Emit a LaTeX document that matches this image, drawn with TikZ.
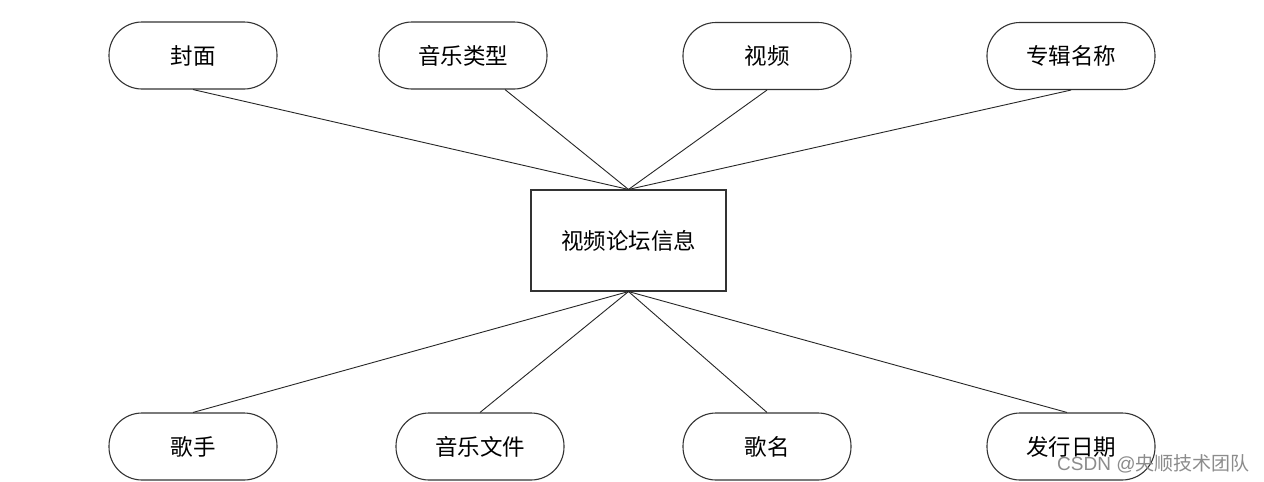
\documentclass[tikz,border=0pt]{standalone}
\usepackage{fontspec}
\newfontfamily\cjk{Noto Sans CJK SC}
\begin{document}
\begin{tikzpicture}[x=1pt,y=-1pt,
  attr/.style={draw=black!80,line width=1.1pt,rounded corners=33pt,minimum width=168pt,minimum height=67pt,inner sep=0pt,font=\cjk\fontsize{22.5}{26}\selectfont},
  ent/.style={draw=black!80,line width=1.1pt,minimum width=195pt,minimum height=101pt,inner sep=0pt,font=\cjk\fontsize{22.5}{26}\selectfont},
  conn/.style={draw=black!85,line width=0.9pt}]
\useasboundingbox[fill=white] (0,0) rectangle (1264,482);
\node[ent] (c) at (628.5,240.5) {视频论坛信息};
\node[attr] (a1) at (193,55.5) {封面};
\node[attr] (a2) at (463,55.5) {音乐类型};
\node[attr] (a3) at (767,56) {视频};
\node[attr] (a4) at (1071,56) {专辑名称};
\node[attr] (b1) at (193,446.5) {歌手};
\node[attr] (b2) at (480,446.5) {音乐文件};
\node[attr] (b3) at (767,446.5) {歌名};
\node[attr] (b4) at (1071,446.5) {发行日期};
\coordinate (p2) at ([xshift=42pt]a2.south);
\coordinate (q4) at ([xshift=-4pt]b4.north);
\draw[conn] (a1.south) -- (c.north);
\draw[conn] (p2) -- (c.north);
\draw[conn] (a3.south) -- (c.north);
\draw[conn] (a4.south) -- (c.north);
\draw[conn] (b1.north) -- (c.south);
\draw[conn] (b2.north) -- (c.south);
\draw[conn] (b3.north) -- (c.south);
\draw[conn] (q4) -- (c.south);
\node[anchor=west,inner sep=0pt,text=black!45,font=\fontspec{Liberation Sans}\fontsize{19}{22}\selectfont] (wm) at (1057,464) {CSDN @{\cjk 央顺技术团队}};
\end{tikzpicture}
\end{document}
